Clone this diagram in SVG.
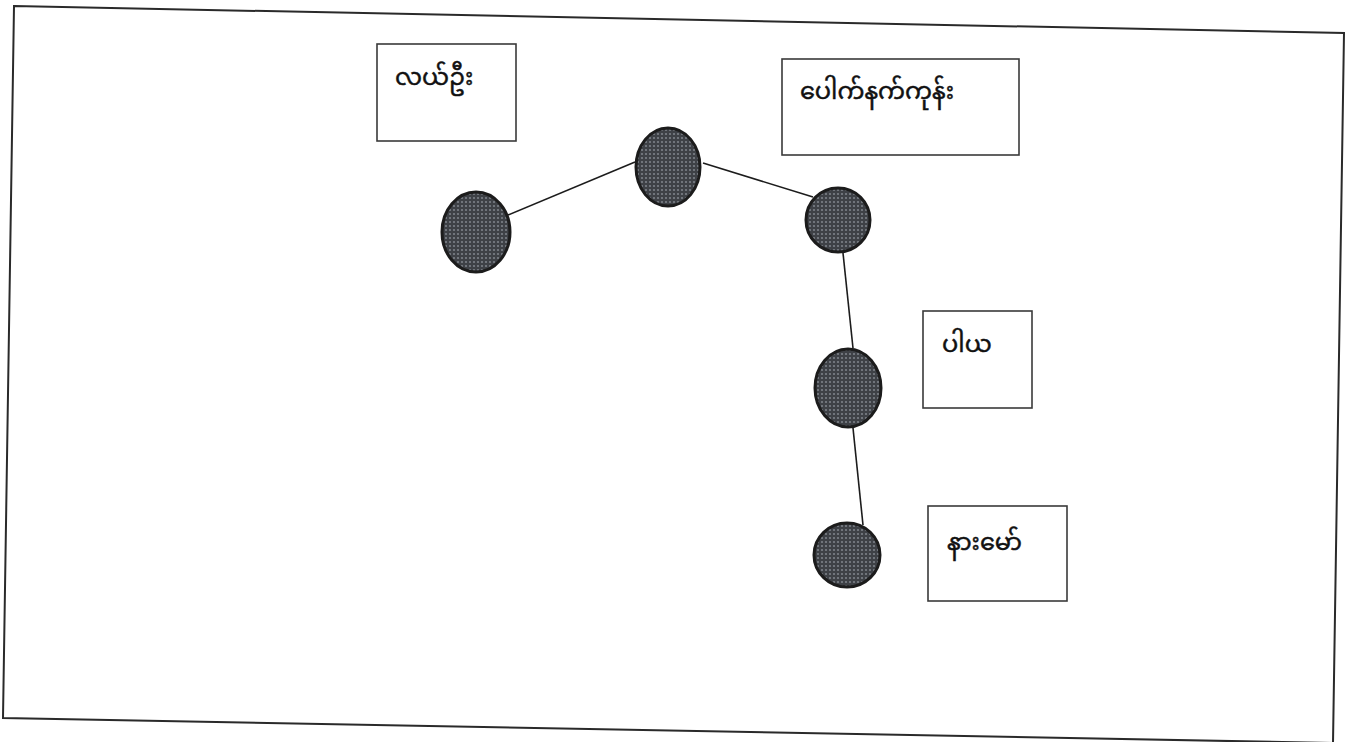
<svg xmlns="http://www.w3.org/2000/svg" width="1352" height="742" viewBox="0 0 1352 742">
<defs>
<pattern id="dots" width="4" height="4" patternUnits="userSpaceOnUse">
<rect width="4" height="4" fill="#3e4146"/>
<circle cx="2" cy="2" r="1.1" fill="#7c8188"/>
</pattern>
</defs>
<style>
.frame{fill:none;stroke:#2a2a2a;stroke-width:2}
.box{fill:#ffffff;stroke:#3a3a3a;stroke-width:1.6}
.node{fill:url(#dots);stroke:#1c1c1c;stroke-width:3}
.edge{stroke:#1c1c1c;stroke-width:1.6;fill:none}
.lbl{font-family:"Noto Sans Myanmar","Padauk","Myanmar Text","Noto Sans",sans-serif;font-size:24px;fill:#111;stroke:#111;stroke-width:0.5}
</style>
<rect width="1352" height="742" fill="#ffffff"/>
<polygon class="frame" points="14,6 1344,33 1333,743 3,718"/>
<g id="connectors">
<line class="edge" x1="508" y1="215" x2="635" y2="162"/>
<line class="edge" x1="703" y1="163" x2="813" y2="197"/>
<line class="edge" x1="843" y1="253" x2="853" y2="348"/>
<line class="edge" x1="853" y1="428" x2="863" y2="525"/>
</g>
<g id="node-left"><ellipse class="node" cx="476" cy="232" rx="34" ry="40"/></g>
<g id="node-top"><ellipse class="node" cx="668" cy="167" rx="32" ry="39"/></g>
<g id="node-right"><ellipse class="node" cx="838" cy="220" rx="32" ry="32"/></g>
<g id="node-mid"><ellipse class="node" cx="848" cy="388" rx="33" ry="39"/></g>
<g id="node-bottom"><ellipse class="node" cx="847" cy="555" rx="33" ry="32"/></g>
<g id="label-layoo"><rect class="box" x="377" y="44" width="139" height="97"/><text class="lbl" x="395" y="85">လယ်ဦး</text></g>
<g id="label-pauknet"><rect class="box" x="782" y="59" width="237" height="96"/><text class="lbl" x="800" y="99">ပေါက်နက်ကုန်း</text></g>
<g id="label-palay"><rect class="box" x="923" y="311" width="109" height="97"/><text class="lbl" x="942" y="352">ပါယ</text></g>
<g id="label-namaw"><rect class="box" x="928" y="506" width="139" height="95"/><text class="lbl" x="947" y="550">နားမော်</text></g>
</svg>
